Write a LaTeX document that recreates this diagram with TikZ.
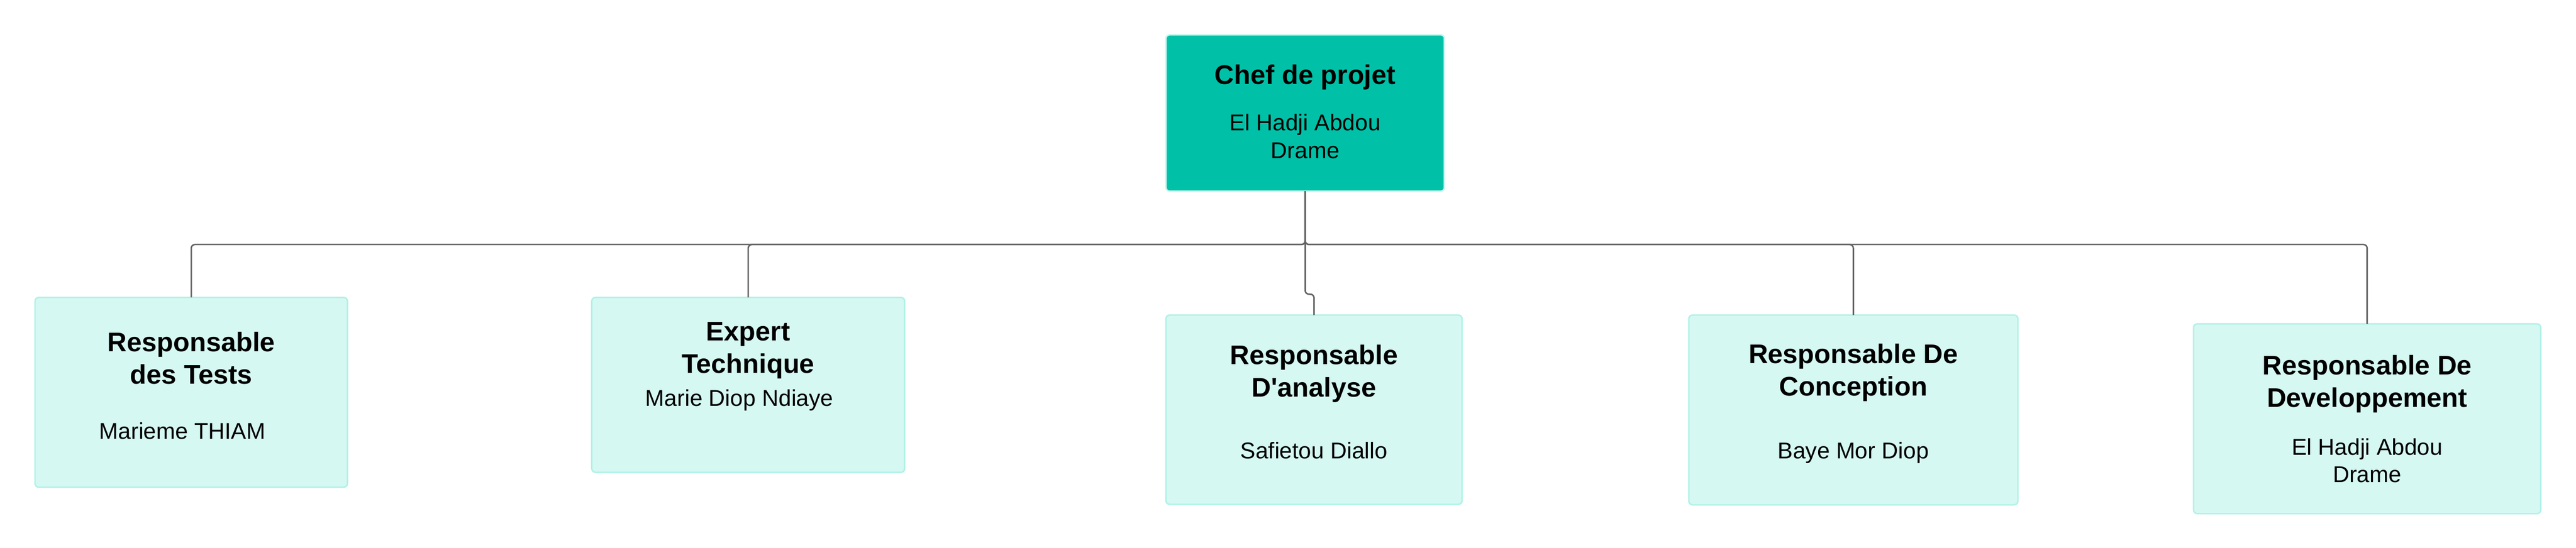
\documentclass[tikz,border=0pt]{standalone}
\usepackage{fontspec}
\setmainfont{Liberation Sans}[Ligatures=TeXOff]
\definecolor{chefvert}{HTML}{00C1A7}
\definecolor{chefbord}{HTML}{C4F6EE}
\definecolor{fondclair}{HTML}{D6F8F2}
\definecolor{bordclair}{HTML}{B0F2E7}
\definecolor{trait}{HTML}{636363}

\tikzset{
  boite/.style={draw=bordclair, fill=fondclair, line width=0.9pt, rounded corners=0.08cm, inner sep=0pt, outer sep=0pt},
  chefboite/.style={boite, draw=chefbord, fill=chefvert},
  titre/.style={anchor=base, align=center, inner sep=0pt, font=\fontsize{16.5}{19.8}\selectfont\bfseries},
  nom/.style={anchor=base, align=center, inner sep=0pt, font=\fontsize{14}{17}\selectfont},
  lien/.style={draw=trait, line width=0.9pt, rounded corners=0.08cm}
}

\begin{document}
\begin{tikzpicture}
  \useasboundingbox (0,0) rectangle (55.5,-11.81);
  % boites
  \node[chefboite, minimum width=6cm, minimum height=3.37cm] (chef) at (28.12,-2.435) {};
  \node[boite, minimum width=6.73cm, minimum height=4.09cm] (tests) at (4.12,-8.455) {};
  \node[boite, minimum width=6.74cm, minimum height=3.77cm] (expert) at (16.12,-8.295) {};
  \node[boite, minimum width=6.38cm, minimum height=4.08cm] (analyse) at (28.31,-8.83) {};
  \node[boite, minimum width=7.09cm, minimum height=4.09cm] (conception) at (39.93,-8.835) {};
  \node[boite, minimum width=7.48cm, minimum height=4.09cm] (dev) at (51,-9.025) {};
  % textes (base = derniere ligne)
  \node[titre] (chefT) at (28.12,-1.81) {Chef de projet};
  \node[nom] (chefN) at (28.12,-3.41) {El Hadji Abdou\\Drame};
  \node[titre] (testsT) at (4.12,-8.27) {Responsable\\des Tests};
  \node[nom] (testsN) at (3.93,-9.46) {Marieme THIAM};
  \node[titre] (expertT) at (16.12,-8.04) {Expert\\Technique};
  \node[nom] (expertN) at (15.93,-8.75) {Marie Diop Ndiaye};
  \node[titre] (analyseT) at (28.31,-8.55) {Responsable\\D'analyse};
  \node[nom] (analyseN) at (28.31,-9.88) {Safietou Diallo};
  \node[titre] (conceptionT) at (39.93,-8.53) {Responsable De\\Conception};
  \node[nom] (conceptionN) at (39.93,-9.88) {Baye Mor Diop};
  \node[titre] (devT) at (51,-8.77) {Responsable De\\Developpement};
  \node[nom] (devN) at (51,-10.40) {El Hadji Abdou\\Drame};
  % liens
  \coordinate (bus) at (28.12,-5.27);
  \draw[lien] (chef.south) -- (bus) -| (tests.north);
  \draw[lien] (chef.south) -- (bus) -| (expert.north);
  \draw[lien] (chef.south) -- ++(0,-2.22) -| (analyse.north);
  \draw[lien] (chef.south) -- (bus) -| (conception.north);
  \draw[lien] (chef.south) -- (bus) -| (dev.north);
\end{tikzpicture}
\end{document}
